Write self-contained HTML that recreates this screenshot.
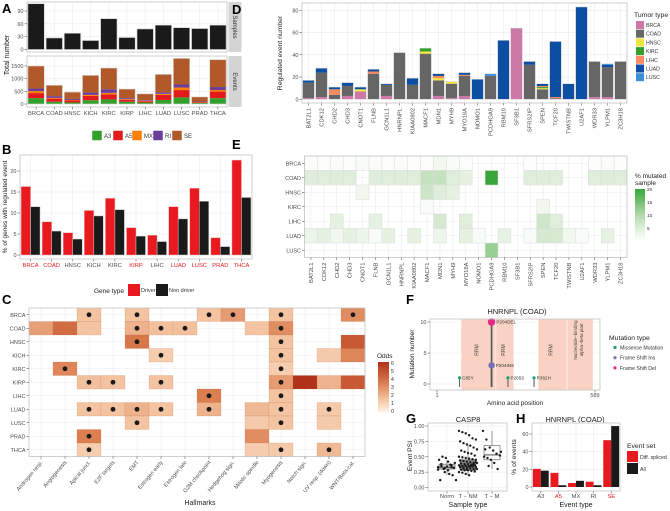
<!DOCTYPE html>
<html><head><meta charset="utf-8">
<style>
html,body{margin:0;padding:0;background:#fff;}
svg{display:block;font-family:"Liberation Sans",sans-serif;}
</style></head>
<body>
<svg id="fig" width="670" height="511" viewBox="0 0 670 511" xmlns="http://www.w3.org/2000/svg"></svg>
<script>
// ---------- DATA ----------
const cancers = ['BRCA','COAD','HNSC','KICH','KIRC','KIRP','LIHC','LUAD','LUSC','PRAD','THCA'];
const sampleCounts = [107,27,38,21,72,28,48,57,51,49,57];
const eventTypes = ['A3','A5','MX','RI','SE'];
const evA3 = [230,90,60,150,180,90,60,160,260,40,230];
const evA5 = [200,120,80,170,200,80,50,200,290,30,260];
const evMX = [80,30,20,40,60,20,15,40,100,10,60];
const evRI = [100,70,40,90,140,40,25,60,120,20,120];
const evSE = [890,430,270,680,840,360,250,710,1030,180,1080];
const aTopTicks = [0,30,60,90];
const aBotTicks = [0,500,1000,1500];

const bDriver = [16.3,7.9,5.3,10.6,13.5,6.5,4.7,11.5,15.9,4.1,22.6];
const bNonDriver = [11.5,5.7,3.8,9.3,10.8,4.5,3.2,8.6,12.8,2.0,13.7];
const bDriverCancer = ['BRCA','COAD','KIRP','LUAD','LUSC','PRAD','THCA'];
const bTicks = [0,5,10,15,20];

const hallmarks = ['Androgen resp.','Angiogenesis','Apical junct.','E2F targets','EMT','Estrogen early','Estrogen late','G2M checkpoint','Hedgehog sign.','Mitotic spindle','Myogenesis','Notch sign.','UV resp. (down)','WNT/Beta-cat.'];
const cCells = [
 [0,2,1.5,1],[0,4,1.5,1],[0,7,1.5,1],[0,8,2.6,1],[0,10,1.5,1],[0,13,3,1],
 [1,0,2.5,0],[1,1,4,0],[1,2,1.5,0],[1,4,2,1],[1,5,1.6,1],[1,6,1.6,1],[1,9,1.5,0],[1,10,3,1],
 [2,4,3.6,1],[2,10,1.5,1],[2,13,4.6,0],
 [3,5,1.2,1],[3,10,1.5,1],[3,12,1.3,0],[3,13,3.2,0],
 [4,1,3.2,1],[4,10,1.2,1],
 [5,2,1.6,1],[5,3,1.5,1],[5,5,1.5,1],[5,10,2.6,1],[5,11,6,0],[5,12,2,0],[5,13,4.6,0],
 [6,7,3.4,1],[6,10,1.5,1],
 [7,2,1.5,1],[7,3,1.5,1],[7,4,2,1],[7,5,1.5,1],[7,7,2,1],[7,9,1.8,0],[7,10,1.5,1],[7,12,1.3,1],
 [8,4,1.5,1],[8,9,1.3,0],[8,10,1.5,1],[8,12,1.3,0],
 [9,2,3.4,1],[9,9,3,0],
 [10,2,1.2,1],[10,9,1.2,0],[10,10,1.3,1],[10,12,1.8,1]
];
const oddsTicks = [0,1,2,3,4,5,6];

const genes = ['BAT2L1','CDK12','CHD2','CHD3','CNOT1','FLNB','GCN1L1','HNRNPL','KIAA0802','MACF1','MDN1','MYH9','MYO18A','NOMO1','PCDHGA9','RBM10','SF3B1','SFRS2IP','SPEN','TCF20','TWISTNB','U2AF1','WDR33','YLPM1','ZC3H18'];
const tumorTypes = ['BRCA','COAD','HNSC','KIRC','LIHC','LUAD','LUSC'];
const dBRCA = [1,2,0,3,7,0,3,0,0,0,3,1,3,0,0,0,64,0,0,0,0,0,2,2,0];
const dCOAD = [14,22,4,9,0,23,10,42,13,41,14,13,18,0,21,0,0,31,9,1,0,0,32,27,34];
const dHNSC = [0,0,0,0,2,0,0,0,0,2,2,2,0,0,0,0,0,0,1,0,0,0,0,0,0];
const dKIRC = [0,0,0,0,0,0,0,0,0,3,0,0,0,0,0,0,0,0,1,0,0,0,0,0,0];
const dLIHC = [0,0,5,0,0,2,0,0,0,0,2,0,1,0,0,0,0,0,1,1,0,0,0,0,0];
const dLUAD = [2,4,2,3,2,2,1,0,6,0,2,0,2,18,0,53,0,3,2,50,14,83,0,2,0];
const dLUSC = [0,0,0,0,0,0,0,0,0,0,0,0,0,0,2,0,0,0,0,0,0,0,0,1,0];
const dTicks = [0,20,40,60,80];

const eRows = ['BRCA','COAD','HNSC','KIRC','LIHC','LUAD','LUSC'];
const eBRCA = [0.5,0.5,0.5,0.5,1,0.5,0.5,0.5,0.5,0.5,2,1,0.5,0,0,0,0,0.5,0,0,0,0,0.5,0.5,0.5];
const eCOAD = [5,5,5,5,0,5,5,5,5,8,8,5,4,0,20,0,0,5,5,5,0,0,5,5,5];
const eHNSC = [0,0,0,0,2,0,0,0,0,7,5,4,0,0,0,0,0,0,0,0,0,0,0,0,0];
const eKIRC = [0,0,0,0,0,0,0,0,0,1,0,0,0,0,0,0,0,0,2,0,0,0,0,0,0];
const eLIHC = [0,0,4,0,0,4,0,0,0,0,6,0,5,0,0,0,0,0,7,5,0,0,0,0,0];
const eLUAD = [3,4,2,4,3,1,4,0,4,0,3,0,4,1,0,4,0,1,6,6,2,1,0,4,0];
const eLUSC = [0,0,0,0,0,0,0,0,0,0,0,0,0,0,12,0,0,0,0,0,0,0,0,0,0];
const eLegendTicks = [5,10,15,20];

const fMutPos = [85,204,204,265,362];
const fMutCount = [1,10,3,1,1];
const fMutLabel = ['C85Y','P204DEL','P204INS','P265S','R362H'];
const fMutType = ['Missense Mutation','Frame Shift Del','Frame Shift Ins','Missense Mutation','Missense Mutation'];
const fDomainStart = [90,220,377,485];
const fDomainEnd = [220,287,485,582];
const fDomainLabel = ['RRM','RRM','RRM','Nucleotide-binding alpha-beta plait'];
const fYTicks = [0,5,10];
const fXTicks = [1,589];

const gGroups = ['Norm','T − NM','T − M'];
const gQ1 = [0.30,0.28,0.45];
const gMed = [0.33,0.35,0.53];
const gQ3 = [0.38,0.45,0.68];
const gLo = [0.20,0.20,0.30];
const gHi = [0.45,0.70,0.92];
const gNorm = [0.33,0.35,0.31,0.28,0.36,0.40,0.45,0.50,0.48,0.22,0.20,0.12,0.12,0.30,0.34,0.37,0.32,0.29,0.38,0.25,0.42,0.33];
const gTNM = [0.92,0.90,0.88,0.85,0.80,0.78,0.75,0.72,0.70,0.68,0.65,0.62,0.60,0.58,0.56,0.55,0.52,0.50,0.49,0.48,0.47,0.46,0.45,0.44,0.43,0.42,0.41,0.40,0.40,0.39,0.38,0.38,0.37,0.36,0.36,0.35,0.35,0.34,0.34,0.33,0.33,0.32,0.32,0.31,0.30,0.30,0.29,0.28,0.28,0.27,0.26,0.25,0.24,0.22,0.20,0.37,0.41,0.44,0.31,0.29,0.35,0.39];
const gTM = [0.92,0.78,0.65,0.60,0.55,0.52,0.50,0.48,0.45,0.40,0.30,0.58,0.62,0.35];
const gTicks = [0,0.25,0.5,0.75,1];

const hTypes = ['A3','A5','MX','RI','SE'];
const hDiff = [20.5,16,4.5,6,53];
const hAll = [18.5,2,7,2,69];
const hRedLabels = ['A5','SE'];
const hTicks = [0,20,40,60];

// ---------- HELPERS ----------
const NS='http://www.w3.org/2000/svg';
const svg=document.getElementById('fig');
function add(tag, attrs, name){
  const el=document.createElementNS(NS,tag);
  for(const k in attrs) el.setAttribute(k, attrs[k]);
  
  
  svg.appendChild(el);
  return el;
}
function text(x,y,s,size,name,opt){
  opt=opt||{};
  const a={x:x,y:y,'font-size':size,fill:opt.fill||'#4d4d4d','text-anchor':opt.anchor||'start'};
  if(opt.rot!==undefined) a.transform='rotate('+opt.rot+' '+x+' '+y+')';
  if(opt.bold) a['font-weight']='bold';
  const el=add('text',a,name);
  el.textContent=s;
  return el;
}
function lin(d0,d1,r0,r1){return v=>r0+(v-d0)*(r1-r0)/(d1-d0);}
function panelBg(x0,y0,x1,y1,name){
  add('rect',{x:x0,y:y0,width:x1-x0,height:y1-y0,fill:'#fff',stroke:'none'},name);
}
function border(x0,y0,x1,y1,name){
  add('rect',{x:x0,y:y0,width:x1-x0,height:y1-y0,fill:'none',stroke:'#c4c4c4','stroke-width':0.8},name);
}
function hgrid(x0,x1,y,name){add('line',{x1:x0,x2:x1,y1:y,y2:y,stroke:'#ebebeb','stroke-width':0.6},name);}
function vgrid(y0,y1,x,name){add('line',{x1:x,x2:x,y1:y0,y2:y1,stroke:'#ebebeb','stroke-width':0.6},name);}
function yTick(x,y,label,name){
  add('line',{x1:x-2.5,x2:x,y1:y,y2:y,stroke:'#444','stroke-width':0.5},name+'-mark');
  text(x-3.5,y+2,label,5.5,name+'-label',{anchor:'end'});
}
function xTickMark(x,y,name){add('line',{x1:x,x2:x,y1:y,y2:y+2.5,stroke:'#444','stroke-width':0.5},name);}
function lerpColor(stops,v){
  for(let i=0;i<stops.length-1;i++){
    const [a,ca]=stops[i],[b,cb]=stops[i+1];
    if(v<=b||i===stops.length-2){
      const t=Math.max(0,Math.min(1,(v-a)/(b-a)));
      const c=[0,1,2].map(k=>Math.round(ca[k]+(cb[k]-ca[k])*t));
      return 'rgb('+c.join(',')+')';
    }
  }
}
const oddsStops=[[0,[255,242,228]],[1.5,[244,196,162]],[3.5,[218,122,76]],[6,[176,50,24]]];
const greenStops=[[0,[255,255,255]],[5,[222,238,218]],[10,[178,218,170]],[20,[58,166,58]]];

// ---------- PANEL A ----------
text(2,13,'A',13,'panel-a-letter',{bold:true,fill:'#000'});
const aX0=27,aX1=227,aBand=(aX1-aX0)/cancers.length;
const ayTop=lin(0,90,49.5,11);
const ayBot=lin(0,1500,104,66);
panelBg(aX0,2,aX1,52,'samples-panel');
aTopTicks.forEach(t=>hgrid(aX0,aX1,ayTop(t),'samples-gridline'));
cancers.forEach((c,i)=>vgrid(2,52,aX0+aBand*(i+.5),'samples-vgrid'));
cancers.forEach((c,i)=>{
  const x=aX0+aBand*i+aBand*0.05, w=aBand*0.9;
  add('rect',{x:x,y:ayTop(sampleCounts[i]),width:w,height:ayTop(0)-ayTop(sampleCounts[i]),fill:'#1a1a1a',stroke:'#cfcfcf','stroke-width':0.6},'samples-bar-'+c);
});
border(aX0,2,aX1,52,'samples-border');
aTopTicks.forEach(t=>yTick(aX0,ayTop(t),String(t),'samples-ytick'));
add('rect',{x:228.5,y:2,width:13,height:50,fill:'#d4d4d4'},'samples-strip');
text(233,27,'Samples',6,'samples-strip-label',{anchor:'middle',rot:90,fill:'#333'});

panelBg(aX0,56,aX1,107,'events-panel');
aBotTicks.forEach(t=>hgrid(aX0,aX1,ayBot(t),'events-gridline'));
cancers.forEach((c,i)=>vgrid(56,107,aX0+aBand*(i+.5),'events-vgrid'));
const evSeries=[evA3,evA5,evMX,evRI,evSE];
const evColors=['#33a02c','#e31a1c','#ff7f00','#6a3d9a','#b15928'];
cancers.forEach((c,i)=>{
  let cum=0;
  const x=aX0+aBand*i+aBand*0.05, w=aBand*0.9;
  evSeries.forEach((s,k)=>{
    const y0=ayBot(cum), y1=ayBot(cum+s[i]);
    add('rect',{x:x,y:y1,width:w,height:y0-y1,fill:evColors[k]},'events-bar-'+c+'-'+eventTypes[k]);
    cum+=s[i];
  });
  add('rect',{x:x,y:ayBot(cum),width:w,height:ayBot(0)-ayBot(cum),fill:'none',stroke:'#d8d8d8','stroke-width':0.6},'events-bar-outline-'+c);
});
border(aX0,56,aX1,107,'events-border');
aBotTicks.forEach(t=>yTick(aX0,ayBot(t),String(t),'events-ytick'));
add('rect',{x:228.5,y:56,width:13,height:51,fill:'#d4d4d4'},'events-strip');
text(233,81.5,'Events',6,'events-strip-label',{anchor:'middle',rot:90,fill:'#333'});
cancers.forEach((c,i)=>{
  const x=aX0+aBand*(i+.5);
  xTickMark(x,107,'a-xtick');
  text(x,115,c,5.8,'a-xlabel-'+c,{anchor:'middle'});
});
text(9,55,'Total number',7,'a-y-axis-title',{anchor:'middle',rot:-90,fill:'#222'});
const aLegX=[92,113,132,153,172];
eventTypes.forEach((t,k)=>{
  add('rect',{x:aLegX[k],y:130.5,width:10,height:10,fill:evColors[k],stroke:'#fff','stroke-width':0.5},'a-legend-key-'+t);
  text(aLegX[k]+12,138,t,6,'a-legend-label-'+t,{fill:'#333'});
});

// ---------- PANEL B ----------
text(2,154,'B',13,'panel-b-letter',{bold:true,fill:'#000'});
const bX0=20,bX1=252,bY0=155,bY1=259,bBand=(bX1-bX0)/cancers.length;
const by=lin(0,20,255,171);
panelBg(bX0,bY0,bX1,bY1,'b-panel');
bTicks.forEach(t=>hgrid(bX0,bX1,by(t),'b-gridline'));
cancers.forEach((c,i)=>vgrid(bY0,bY1,bX0+bBand*(i+.5),'b-vgrid'));
cancers.forEach((c,i)=>{
  const cx=bX0+bBand*(i+.5), w=bBand*0.45;
  add('rect',{x:cx-w,y:by(bDriver[i]),width:w,height:by(0)-by(bDriver[i]),fill:'#e8191f',stroke:'#f2b0b0','stroke-width':0.5},'b-bar-driver-'+c);
  add('rect',{x:cx,y:by(bNonDriver[i]),width:w,height:by(0)-by(bNonDriver[i]),fill:'#1a1a1a',stroke:'#cccccc','stroke-width':0.5},'b-bar-nondriver-'+c);
  xTickMark(cx,bY1,'b-xtick');
  text(cx,267,c,5.8,'b-xlabel-'+c,{anchor:'middle',fill:bDriverCancer.includes(c)?'#e8191f':'#4d4d4d'});
});
border(bX0,bY0,bX1,bY1,'b-border');
bTicks.forEach(t=>yTick(bX0,by(t),String(t),'b-ytick'));
text(7,207,'% of genes with regulated event',6.5,'b-y-axis-title',{anchor:'middle',rot:-90,fill:'#222'});
text(94,293,'Gene type',6.5,'b-legend-title',{fill:'#222'});
add('rect',{x:128,y:284,width:12,height:12,fill:'#e8191f'},'b-legend-key-driver');
text(141,292,'Driver',5.5,'b-legend-label-driver',{fill:'#333'});
add('rect',{x:156,y:284,width:12,height:12,fill:'#1a1a1a'},'b-legend-key-nondriver');
text(169,292,'Non driver',5.5,'b-legend-label-nondriver',{fill:'#333'});

// ---------- PANEL C ----------
text(2,304,'C',13,'panel-c-letter',{bold:true,fill:'#000'});
const cX0=29,cY0=308,cColW=24,cRowH=13.5;
const cX1=cX0+cColW*hallmarks.length,cY1=cY0+cRowH*cancers.length;
panelBg(cX0,cY0,cX1,cY1,'c-panel');
cancers.forEach((c,i)=>hgrid(cX0,cX1,cY0+cRowH*(i+.5),'c-gridline'));
hallmarks.forEach((h,j)=>vgrid(cY0,cY1,cX0+cColW*(j+.5),'c-vgrid'));
cCells.forEach(cell=>{
  const [r,c,v,sig]=cell;
  add('rect',{x:cX0+cColW*c,y:cY0+cRowH*r,width:cColW,height:cRowH,fill:lerpColor(oddsStops,v),stroke:'rgba(190,110,70,0.35)','stroke-width':0.5},'c-cell-'+cancers[r]+'-'+c);
  if(sig) add('circle',{cx:cX0+cColW*(c+.5),cy:cY0+cRowH*(r+.5),r:2.4,fill:'#1a1a1a'},'c-significance-dot');
});
border(cX0,cY0,cX1,cY1,'c-border');
cancers.forEach((c,i)=>{
  const y=cY0+cRowH*(i+.5);
  add('line',{x1:cX0-2.5,x2:cX0,y1:y,y2:y,stroke:'#444','stroke-width':0.5},'c-ytick-mark');
  text(cX0-3.5,y+2,c,5.5,'c-ylabel-'+c,{anchor:'end'});
});
hallmarks.forEach((h,j)=>{
  const x=cX0+cColW*(j+.5);
  xTickMark(x,cY1,'c-xtick');
  text(x+2,cY1+6,h,5.5,'c-xlabel',{anchor:'end',rot:-50});
});
text(200,505,'Hallmarks',7,'c-x-axis-title',{anchor:'middle',fill:'#222'});
text(377,358,'Odds',6.5,'c-legend-title',{fill:'#222'});
const grad=add('linearGradient',{id:'oddsGrad',x1:0,y1:1,x2:0,y2:0},'odds-gradient');
[0,1.5,3,4.5,6].forEach(v=>{
  const s=document.createElementNS(NS,'stop');
  s.setAttribute('offset',v/6);
  s.setAttribute('stop-color',lerpColor(oddsStops,v));
  grad.appendChild(s);
});
const oy=lin(0,6,411,363);
add('rect',{x:378,y:362,width:11,height:50,fill:'url(#oddsGrad)'},'c-legend-colorbar');
oddsTicks.forEach(t=>text(391,oy(t)+2,String(t),5.2,'c-legend-tick',{fill:'#333'}));

// ---------- PANEL D ----------
text(232,14,'D',13,'panel-d-letter',{bold:true,fill:'#000'});
const dX0=302,dX1=627,dY0=3,dY1=103,dBand=(dX1-dX0)/genes.length;
const dy=lin(0,80,99.3,10.3);
panelBg(dX0,dY0,dX1,dY1,'d-panel');
dTicks.forEach(t=>hgrid(dX0,dX1,dy(t),'d-gridline'));
genes.forEach((g,i)=>vgrid(dY0,dY1,dX0+dBand*(i+.5),'d-vgrid'));
const dSeries=[dBRCA,dCOAD,dHNSC,dKIRC,dLIHC,dLUAD,dLUSC];
const tumorColors=['#cc79a7','#666666','#f0e442','#33a02c','#f78b5d','#0b4ea2','#3d8fd6'];
genes.forEach((g,i)=>{
  let cum=0;
  const x=dX0+dBand*i+dBand*0.05,w=dBand*0.9;
  dSeries.forEach((s,k)=>{
    if(!s[i]) return;
    const y0=dy(cum),y1=dy(cum+s[i]);
    add('rect',{x:x,y:y1,width:w,height:y0-y1,fill:tumorColors[k]},'d-bar-'+g+'-'+tumorTypes[k]);
    cum+=s[i];
  });
  add('rect',{x:x,y:dy(cum),width:w,height:dy(0)-dy(cum),fill:'none',stroke:'#d8d8d8','stroke-width':0.5},'d-bar-outline-'+g);
  const cx=dX0+dBand*(i+.5);
  xTickMark(cx,dY1,'d-xtick');
  text(cx+2,dY1+5,g,5.8,'d-xlabel-'+g,{anchor:'end',rot:-90});
});
border(dX0,dY0,dX1,dY1,'d-border');
dTicks.forEach(t=>yTick(dX0,dy(t),String(t),'d-ytick'));
text(282,53,'Regulated event number',6.8,'d-y-axis-title',{anchor:'middle',rot:-90,fill:'#222'});
text(634,17,'Tumor type',6.8,'d-legend-title',{fill:'#222'});
tumorTypes.forEach((t,k)=>{
  const y=21+k*8.7;
  add('rect',{x:636,y:y,width:8,height:8,fill:tumorColors[k]},'d-legend-key-'+t);
  text(646,y+6,t,5.2,'d-legend-label-'+t,{fill:'#333'});
});

// ---------- PANEL E ----------
text(232,149,'E',13,'panel-e-letter',{bold:true,fill:'#000'});
const eX0=304.5,eY0=156,eColW=12.9,eRowH=14.5;
const eX1=eX0+eColW*genes.length,eY1=eY0+eRowH*eRows.length;
panelBg(eX0,eY0,eX1,eY1,'e-panel');
eRows.forEach((r,i)=>hgrid(eX0,eX1,eY0+eRowH*(i+.5),'e-gridline'));
genes.forEach((g,j)=>vgrid(eY0,eY1,eX0+eColW*(j+.5),'e-vgrid'));
const eSeries=[eBRCA,eCOAD,eHNSC,eKIRC,eLIHC,eLUAD,eLUSC];
eSeries.forEach((s,r)=>{
  s.forEach((v,j)=>{
    if(!v) return;
    add('rect',{x:eX0+eColW*j,y:eY0+eRowH*r,width:eColW,height:eRowH,fill:lerpColor(greenStops,v),stroke:'#dcdcdc','stroke-width':0.5},'e-cell-'+eRows[r]+'-'+genes[j]);
  });
});
border(eX0,eY0,eX1,eY1,'e-border');
eRows.forEach((r,i)=>{
  const y=eY0+eRowH*(i+.5);
  add('line',{x1:eX0-2.5,x2:eX0,y1:y,y2:y,stroke:'#444','stroke-width':0.5},'e-ytick-mark');
  text(eX0-3.5,y+2,r,5.5,'e-ylabel-'+r,{anchor:'end'});
});
genes.forEach((g,j)=>{
  const cx=eX0+eColW*(j+.5);
  xTickMark(cx,eY1,'e-xtick');
  text(cx+2,eY1+5,g,5.8,'e-xlabel-'+g,{anchor:'end',rot:-90});
});
text(635,178,'% mutated',6.5,'e-legend-title',{fill:'#222'});
text(635,185,'sample',6.5,'e-legend-title-2',{fill:'#222'});
const ggrad=add('linearGradient',{id:'greenGrad',x1:0,y1:1,x2:0,y2:0},'green-gradient');
[0,5,10,15,20].forEach(v=>{
  const s=document.createElementNS(NS,'stop');
  s.setAttribute('offset',v/20);
  s.setAttribute('stop-color',lerpColor(greenStops,v));
  ggrad.appendChild(s);
});
const ey=lin(0,20,241,189);
add('rect',{x:635,y:189,width:10,height:52,fill:'url(#greenGrad)'},'e-legend-colorbar');
eLegendTicks.forEach(t=>text(647,ey(t)+2,String(t),4.8,'e-legend-tick',{fill:'#333'}));

// ---------- PANEL F ----------
text(406,304,'F',13,'panel-f-letter',{bold:true,fill:'#000'});
text(517,314,'HNRNPL (COAD)',7.5,'f-title',{anchor:'middle',fill:'#222'});
const fX0=430,fX1=600,fY0=319,fY1=390;
const fx=lin(1,589,437,595), fy=lin(0,10,384,322);
panelBg(fX0,fY0,fX1,fY1,'f-panel');
fYTicks.forEach(t=>hgrid(fX0,fX1,fy(t),'f-gridline'));
fDomainStart.forEach((s,k)=>{
  add('rect',{x:fx(s),y:fY0,width:fx(fDomainEnd[k])-fx(s),height:fY1-fY0,fill:'#f9d2c4',stroke:'#fff','stroke-width':0.6},'f-domain-'+k);
  const mx=(fx(s)+fx(fDomainEnd[k]))/2;
  if(k<3) text(mx,350,fDomainLabel[k],5,'f-domain-label',{anchor:'middle',rot:-90,fill:'#444'});
  else { text(mx-3,340,'Nucleotide−binding',4.6,'f-domain-label',{anchor:'middle',rot:-90,fill:'#444'});
         text(mx+3,340,'alpha−beta plait',4.6,'f-domain-label-2',{anchor:'middle',rot:-90,fill:'#444'}); }
});
const mutColor={'Missense Mutation':'#1b9e77','Frame Shift Ins':'#7570b3','Frame Shift Del':'#e7298a'};
fMutPos.forEach((p,i)=>{
  add('line',{x1:fx(p),x2:fx(p),y1:fy(0)+3,y2:fy(fMutCount[i]),stroke:'#555','stroke-width':fMutCount[i]>2?1.6:1},'f-lollipop-stem-'+fMutLabel[i]);
});
fMutPos.forEach((p,i)=>{
  const rr=fMutCount[i]>5?3.8:(fMutCount[i]>2?3.2:1.6);
  add('circle',{cx:fx(p),cy:fy(fMutCount[i]),r:rr,fill:mutColor[fMutType[i]]},'f-lollipop-head-'+fMutLabel[i]);
  text(fx(p)+rr+1,fy(fMutCount[i])+1.7,fMutLabel[i],4.6,'f-mutation-label-'+fMutLabel[i],{fill:'#333'});
});
border(fX0,fY0,fX1,fY1,'f-border');
fYTicks.forEach(t=>yTick(fX0,fy(t),String(t),'f-ytick'));
fXTicks.forEach(t=>{xTickMark(fx(t),fY1,'f-xtick');text(fx(t),397,String(t),5.5,'f-xlabel',{anchor:'middle'});});
text(515,405,'Amino acid position',6.5,'f-x-axis-title',{anchor:'middle',fill:'#222'});
text(414,354,'Mutation number',6.5,'f-y-axis-title',{anchor:'middle',rot:-90,fill:'#222'});
text(609,340,'Mutation type',6.8,'f-legend-title',{fill:'#222'});
['Missense Mutation','Frame Shift Ins','Frame Shift Del'].forEach((m,k)=>{
  const y=347.5+k*10.2;
  add('circle',{cx:615,cy:y,r:1.6,fill:mutColor[m]},'f-legend-key');
  text(620,y+2,m,5.2,'f-legend-label',{fill:'#333'});
});

// ---------- PANEL G ----------
text(406,423,'G',13,'panel-g-letter',{bold:true,fill:'#000'});
text(468,422,'CASP8',7.5,'g-title',{anchor:'middle',fill:'#222'});
const gX0=428,gX1=507,gY0=423,gY1=491;
const gy=lin(0,1,487.5,426);
const gCx=[447,468,492];
panelBg(gX0,gY0,gX1,gY1,'g-panel');
gTicks.forEach(t=>hgrid(gX0,gX1,gy(t),'g-gridline'));
gCx.forEach(x=>vgrid(gY0,gY1,x,'g-vgrid'));
const gPts=[gNorm,gTNM,gTM];
const gFill=['#cfcfcf','#8c8c8c','#ffffff'];
gGroups.forEach((g,k)=>{
  const cx=gCx[k],hw=8;
  add('line',{x1:cx,x2:cx,y1:gy(gLo[k]),y2:gy(gHi[k]),stroke:'#555','stroke-width':0.6},'g-whisker-'+k);
  add('rect',{x:cx-hw,y:gy(gQ3[k]),width:hw*2,height:gy(gQ1[k])-gy(gQ3[k]),fill:gFill[k],stroke:'#555','stroke-width':0.6},'g-box-'+k);
  add('line',{x1:cx-hw,x2:cx+hw,y1:gy(gMed[k]),y2:gy(gMed[k]),stroke:'#333','stroke-width':0.9},'g-median-'+k);
  gPts[k].forEach((v,i)=>{
    const off=(((i*37)%17)-8)/8*9;
    add('circle',{cx:cx+off,cy:gy(v),r:1.2,fill:'#1a1a1a'},'g-point');
  });
  xTickMark(cx,gY1,'g-xtick');
  text(cx,498,g,5.8,'g-xlabel-'+k,{anchor:'middle'});
});
border(gX0,gY0,gX1,gY1,'g-border');
gTicks.forEach(t=>yTick(gX0,gy(t),t.toFixed(2),'g-ytick'));
text(468,507,'Sample type',7,'g-x-axis-title',{anchor:'middle',fill:'#222'});
text(412,456,'Event PSI',6.8,'g-y-axis-title',{anchor:'middle',rot:-90,fill:'#222'});

// ---------- PANEL H ----------
text(516,423,'H',13,'panel-h-letter',{bold:true,fill:'#000'});
text(575,422,'HNRNPL (COAD)',7.5,'h-title',{anchor:'middle',fill:'#222'});
const hX0=532,hX1=620,hY0=423,hY1=491,hBand=(hX1-hX0)/hTypes.length;
const hy=lin(0,60,487,434);
panelBg(hX0,hY0,hX1,hY1,'h-panel');
hTicks.forEach(t=>hgrid(hX0,hX1,hy(t),'h-gridline'));
hTypes.forEach((t,i)=>vgrid(hY0,hY1,hX0+hBand*(i+.5),'h-vgrid'));
hTypes.forEach((t,i)=>{
  const cx=hX0+hBand*(i+.5),w=hBand*0.45;
  add('rect',{x:cx-w,y:hy(hDiff[i]),width:w,height:hy(0)-hy(hDiff[i]),fill:'#e8191f'},'h-bar-diff-'+t);
  add('rect',{x:cx,y:hy(hAll[i]),width:w,height:hy(0)-hy(hAll[i]),fill:'#1a1a1a'},'h-bar-all-'+t);
  xTickMark(cx,hY1,'h-xtick');
  text(cx,498,t,5.8,'h-xlabel-'+t,{anchor:'middle',fill:hRedLabels.includes(t)?'#e8191f':'#4d4d4d'});
});
border(hX0,hY0,hX1,hY1,'h-border');
hTicks.forEach(t=>yTick(hX0,hy(t),String(t),'h-ytick'));
text(576,507,'Event type',7,'h-x-axis-title',{anchor:'middle',fill:'#222'});
text(516,457,'% of events',6.8,'h-y-axis-title',{anchor:'middle',rot:-90,fill:'#222'});
text(627,448,'Event set',6.8,'h-legend-title',{fill:'#222'});
add('rect',{x:627,y:451,width:11,height:11,fill:'#e8191f'},'h-legend-key-diff');
text(640,459,'Diff. spliced',5.2,'h-legend-label-diff',{fill:'#333'});
add('rect',{x:627,y:463,width:11,height:11,fill:'#1a1a1a'},'h-legend-key-all');
text(640,471,'All',5.2,'h-legend-label-all',{fill:'#333'});
</script>
</body></html>
